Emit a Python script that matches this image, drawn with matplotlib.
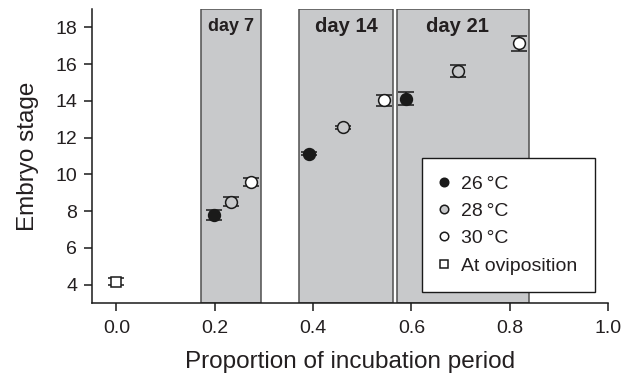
import numpy as np
import matplotlib
matplotlib.use("Agg")
import matplotlib.pyplot as plt

plt.rcParams['font.family'] = ['Liberation Sans', 'DejaVu Sans']

# sampling windows (proportion of incubation period)
day_labels = ['day 7', 'day 14', 'day 21']
day_start = [0.171, 0.371, 0.571]
day_end = [0.294, 0.563, 0.839]

# embryo stage per temperature (day 7, day 14, day 21)
x26 = [0.198, 0.392, 0.588]
y26 = [7.78, 11.12, 14.12]
e26 = [0.27, 0.08, 0.35]

x28 = [0.233, 0.461, 0.694]
y28 = [8.52, 12.57, 15.62]
e28 = [0.24, 0.08, 0.33]

x30 = [0.273, 0.545, 0.818]
y30 = [9.57, 14.03, 17.12]
e30 = [0.23, 0.30, 0.41]

x_ovi = [0.0]
y_ovi = [4.16]
e_ovi = [0.2]

txt = '#231f20'

fig = plt.figure(figsize=(6.25, 3.79), dpi=100)
ax = fig.add_axes([0.147, 0.2005, 0.826, 0.776])

for lab, a, b in zip(day_labels, day_start, day_end):
    ax.axvspan(a, b, facecolor='#c8c9cb', edgecolor='#505050', lw=1.1, zorder=1)
    fs = 13 if lab == 'day 7' else 14.5
    ax.text((a + b) / 2 - (0.012 if lab == 'day 21' else 0), 18.05, lab,
            ha='center', va='center', fontsize=fs, fontweight='bold', color=txt, zorder=2)

series = [
    (x26, y26, e26, 'o', '#1a1a1a', '26\u2009°C'),
    (x28, y28, e28, 'o', '#c8c9cb', '28\u2009°C'),
    (x30, y30, e30, 'o', 'white', '30\u2009°C'),
    (x_ovi, y_ovi, e_ovi, 's', 'white', 'At oviposition'),
]
handles = []
for xs, ys, es, m, fc, lab in series:
    ax.errorbar(xs, ys, yerr=es, fmt='none', ecolor='#1a1a1a', elinewidth=1.1,
                capsize=6, capthick=1.1, zorder=3)
    h, = ax.plot(xs, ys, linestyle='none', marker=m, markersize=8.5 if m == 'o' else 7.5,
                 markerfacecolor=fc, markeredgecolor='#1a1a1a', markeredgewidth=1.1,
                 label=lab, zorder=4)
    handles.append(h)

ax.set_xlim(-0.05, 1.0)
ax.set_ylim(3, 19)
ax.set_xticks(np.arange(0, 1.01, 0.2))
ax.set_xticklabels(['0.0', '0.2', '0.4', '0.6', '0.8', '1.0'])
ax.set_yticks(np.arange(4, 19, 2))

for s in ['top', 'right']:
    ax.spines[s].set_visible(False)
for s in ['left', 'bottom']:
    ax.spines[s].set_linewidth(1.1)
    ax.spines[s].set_color('#1a1a1a')
    ax.spines[s].set_zorder(5)
ax.tick_params(direction='out', length=5.5, width=1.1, labelsize=14, colors='#1a1a1a',
               labelcolor=txt)
ax.tick_params(axis='x', pad=7)
ax.tick_params(axis='y', pad=5)

ax.set_xlabel('Proportion of incubation period', fontsize=17.5, color=txt, labelpad=10)
ax.set_ylabel('Embryo stage', fontsize=17.5, color=txt, labelpad=12)

leg = ax.legend(handles=handles, loc='lower left', bbox_to_anchor=(0.64, 0.037),
                fontsize=14, frameon=True, fancybox=False, framealpha=1,
                markerscale=0.72, handlelength=0.4, handletextpad=0.7,
                borderpad=0.9, labelspacing=0.5, borderaxespad=0)
leg.get_frame().set_edgecolor('#1a1a1a')
leg.get_frame().set_linewidth(1.0)
leg.set_zorder(6)
for t in leg.get_texts():
    t.set_color(txt)

fig.savefig('out.png', dpi=100)
